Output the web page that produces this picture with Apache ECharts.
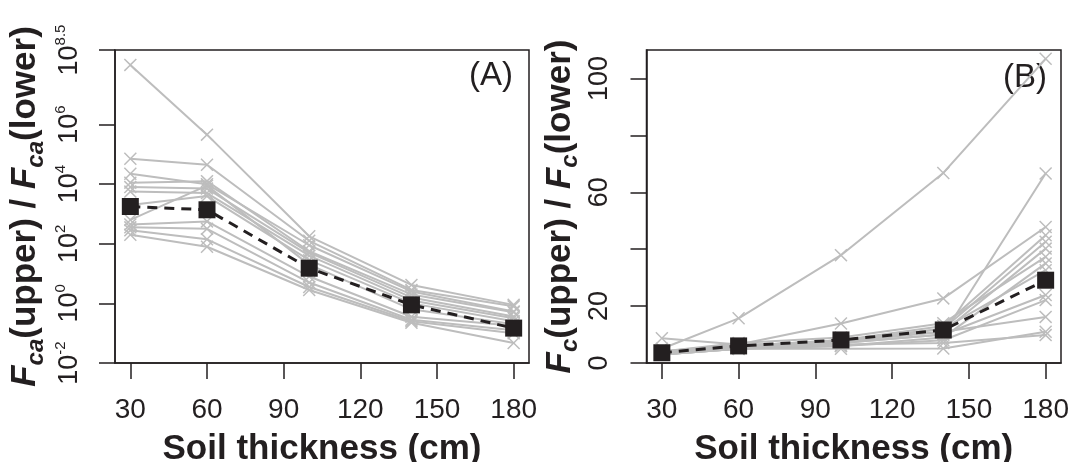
<!DOCTYPE html>
<html>
<head>
<meta charset="utf-8">
<script src="https://cdn.jsdelivr.net/npm/echarts@6/dist/echarts.min.js"></script>
<style>
  html, body { margin: 0; padding: 0; background: #fff; overflow: hidden; }
  #chart { width: 1071px; height: 462px; }
</style>
</head>
<body>
<div id="chart"></div>
<script>
// Soil thickness (cm) at which each run was evaluated
const thickness = [30, 60, 100, 140, 180];
const xTicks = [30, 60, 90, 120, 150, 180];

// Panel A: log10 of Fca(upper) / Fca(lower), one row per run
const caRunsLog10 = [
  [8.0, 5.66, 2.25, 0.62, -0.05],
  [4.85, 4.65, 2.1, 0.45, -0.1],
  [4.35, 4.0, 1.95, 0.4, -0.27],
  [4.05, 4.1, 1.75, 0.3, -0.3],
  [3.9, 3.85, 1.7, 0.2, -0.44],
  [3.75, 3.7, 1.6, 0.1, -0.5],
  [3.3, 3.6, 1.45, 0.0, -0.6],
  [2.8, 3.95, 1.3, -0.2, -0.7],
  [2.65, 2.75, 0.9, -0.45, -0.75],
  [2.55, 2.5, 0.7, -0.55, -0.9],
  [2.45, 2.15, 0.55, -0.6, -1.0],
  [2.3, 1.9, 0.45, -0.65, -1.33]
];
const caMeanLog10 = [3.25, 3.14, 1.18, -0.05, -0.83];
const caTickExps = [-2, 0, 2, 4, 6, 8.5];

// Panel B: Fc(upper) / Fc(lower), one row per run
const cRuns = [
  [5.0, 15.7, 37.9, 66.8, 106.9],
  [8.7, 6.5, 13.9, 22.7, 47.8],
  [3.0, 5.0, 7.0, 10.0, 66.6],
  [4.0, 6.0, 8.0, 13.0, 44.9],
  [3.5, 5.5, 7.5, 12.0, 42.6],
  [3.0, 6.0, 8.0, 11.0, 40.2],
  [4.0, 7.0, 9.0, 14.0, 37.3],
  [3.0, 5.0, 6.0, 9.0, 35.0],
  [3.5, 6.0, 8.0, 12.0, 32.6],
  [4.0, 6.5, 7.0, 10.0, 23.9],
  [3.0, 5.0, 6.0, 8.0, 22.1],
  [3.5, 6.0, 7.5, 11.0, 16.2],
  [3.0, 5.0, 5.0, 5.1, 11.0],
  [4.0, 5.5, 6.5, 7.0, 9.8]
];
const cMean = [3.6, 6.0, 8.1, 11.6, 29.1];
const cTicks = [0, 20, 40, 60, 80, 100];
const cTickLabels = [0, 20, 60, 100];

const ink = '#231f20';
const gray = '#bdbdbd';
const font = '"Liberation Sans", Arial, Helvetica, sans-serif';
// thin "x" glyph used for the individual runs
const xMark = 'path://M0,0.8L0.8,0L5,4.2L9.2,0L10,0.8L5.8,5L10,9.2L9.2,10L5,5.8L0.8,10L0,9.2L4.2,5Z';

const chart = echarts.init(document.getElementById('chart'), null, { renderer: 'canvas' });

function runSeries(rows, idx) {
  return rows.map(r => ({
    type: 'line',
    xAxisIndex: idx,
    yAxisIndex: idx,
    data: r.map((v, i) => [thickness[i], v]),
    symbol: xMark,
    symbolSize: 13,
    showAllSymbol: true,
    lineStyle: { color: gray, width: 2 },
    itemStyle: { color: gray },
    silent: true,
    z: 2
  }));
}

function meanSeries(values, idx) {
  return {
    type: 'line',
    xAxisIndex: idx,
    yAxisIndex: idx,
    data: values.map((v, i) => [thickness[i], v]),
    symbol: 'rect',
    symbolSize: 17,
    lineStyle: { color: ink, width: 3, type: [10, 7] },
    itemStyle: { color: ink },
    silent: true,
    z: 5
  };
}

function xAxis(idx) {
  return {
    type: 'value',
    gridIndex: idx,
    min: 24,
    max: 186,
    axisLine: { show: true, onZero: false, lineStyle: { color: ink, width: 1.5 } },
    axisTick: { show: true, length: 16, customValues: xTicks, lineStyle: { color: ink, width: 1.5 } },
    axisLabel: { customValues: xTicks, margin: 33, color: ink, fontSize: 28, lineHeight: 28, fontFamily: font },
    splitLine: { show: false },
    name: 'Soil thickness (cm)',
    nameLocation: 'middle',
    nameGap: 62,
    nameTextStyle: { color: ink, fontSize: 35, fontWeight: 'bold', lineHeight: 40, fontFamily: font }
  };
}

function titleRich() {
  return {
    f: { fontSize: 35, fontWeight: 'bold', fontStyle: 'italic', lineHeight: 40, verticalAlign: 'top', color: ink, fontFamily: font },
    sub: { fontSize: 24, fontWeight: 'bold', fontStyle: 'italic', lineHeight: 24, verticalAlign: 'bottom', color: ink, fontFamily: font },
    t: { fontSize: 35, fontWeight: 'bold', lineHeight: 40, verticalAlign: 'top', color: ink, fontFamily: font }
  };
}

const gridBase = { top: 50, height: 313, show: true, borderColor: ink, borderWidth: 1.5, containLabel: false, outerBoundsMode: 'none' };

const option = {
  animation: false,
  backgroundColor: '#fff',
  grid: [
    Object.assign({ left: 115, width: 414 }, gridBase),
    Object.assign({ left: 646.5, width: 414.5 }, gridBase)
  ],
  xAxis: [xAxis(0), xAxis(1)],
  yAxis: [
    {
      type: 'value',
      gridIndex: 0,
      min: -2,
      max: 8.5,
      axisLine: { show: true, onZero: false, lineStyle: { color: ink, width: 1.5 } },
      axisTick: { show: true, length: 16, customValues: caTickExps, lineStyle: { color: ink, width: 1.5 } },
      axisLabel: {
        customValues: caTickExps,
        rotate: 90,
        margin: 32,
        formatter: v => '{b|10}{s|' + String(v) + '}',
        rich: {
          b: { fontSize: 27, lineHeight: 30, verticalAlign: 'bottom', color: ink, fontFamily: font },
          s: { fontSize: 15, lineHeight: 20, verticalAlign: 'top', color: ink, fontFamily: font }
        }
      },
      splitLine: { show: false },
      name: '{f|F}{sub|ca}{t|(upper) / }{f|F}{sub|ca}{t|(lower)}',
      nameLocation: 'middle',
      nameGap: 67,
      nameTextStyle: { rich: titleRich() }
    },
    {
      type: 'value',
      gridIndex: 1,
      min: 0,
      max: 110,
      axisLine: { show: true, onZero: false, lineStyle: { color: ink, width: 1.5 } },
      axisTick: { show: true, length: 16, customValues: cTicks, lineStyle: { color: ink, width: 1.5 } },
      axisLabel: {
        customValues: cTickLabels,
        rotate: 90,
        margin: 32,
        color: ink,
        fontSize: 27,
        lineHeight: 30,
        fontFamily: font
      },
      splitLine: { show: false },
      name: '{f|F}{sub|c}{t|(upper) / }{f|F}{sub|c}{t|(lower)}',
      nameLocation: 'middle',
      nameGap: 64,
      nameTextStyle: { rich: titleRich() }
    }
  ],
  graphic: [
    { type: 'text', x: 513, y: 76, style: { text: '(A)', fill: ink, fontSize: 33, fontFamily: font, textAlign: 'right', textVerticalAlign: 'middle' } },
    { type: 'text', x: 1047, y: 78, style: { text: '(B)', fill: ink, fontSize: 33, fontFamily: font, textAlign: 'right', textVerticalAlign: 'middle' } }
  ],
  series: [
    ...runSeries(caRunsLog10, 0),
    meanSeries(caMeanLog10, 0),
    ...runSeries(cRuns, 1),
    meanSeries(cMean, 1)
  ]
};

chart.setOption(option);
</script>
</body>
</html>
